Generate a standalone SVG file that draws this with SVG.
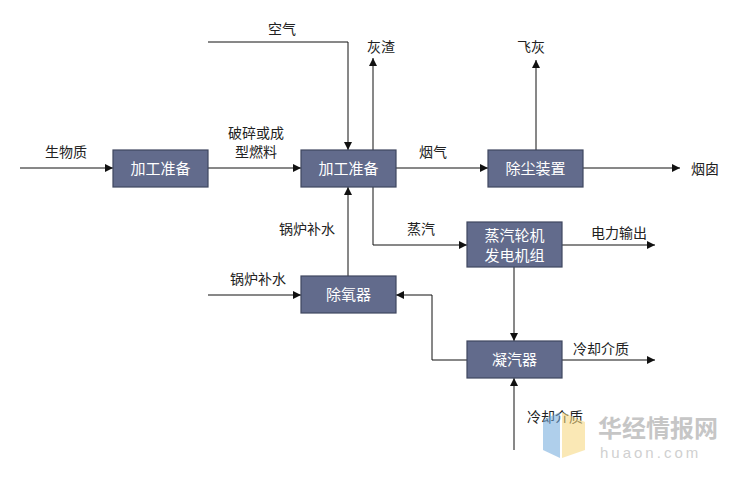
<svg xmlns="http://www.w3.org/2000/svg" width="750" height="478" viewBox="0 0 750 478">
<defs>
<style>
.box{fill:#626b8c;stroke:#3f475f;stroke-width:1.2}
.bt{fill:#fff;font-family:"Noto Sans CJK SC",sans-serif;font-size:15px;text-anchor:middle}
.lb{fill:#222;font-family:"Noto Sans CJK SC",sans-serif;font-size:14px;text-anchor:middle}
.ln{fill:none;stroke:#111;stroke-width:1;marker-end:url(#a)}
</style>
<marker id="a" viewBox="0 0 10 10" refX="10" refY="5" markerWidth="8" markerHeight="8" orient="auto" markerUnits="userSpaceOnUse"><path d="M0,0L10,5L0,10z" fill="#111"/></marker>
</defs>
<rect width="750" height="478" fill="#fff"/>
<g id="connectors">
<path class="ln" d="M20,168H113"/>
<path class="ln" d="M208,168H301"/>
<path class="ln" d="M208,42H348V150"/>
<path class="ln" d="M373,150V58"/>
<path class="ln" d="M396,168H488"/>
<path class="ln" d="M536,150V60"/>
<path class="ln" d="M583,168H680"/>
<path class="ln" d="M373,187V245H467"/>
<path class="ln" d="M562,245H655"/>
<path class="ln" d="M514,267V341"/>
<path class="ln" d="M562,360H655"/>
<path class="ln" d="M514,450V378"/>
<path class="ln" d="M467,360H432V295H396"/>
<path class="ln" d="M208,295H301"/>
<path class="ln" d="M348,276V187"/>
</g>
<g id="labels">
<text class="lb" x="66" y="157">生物质</text>
<text class="lb" x="256" y="138">破碎或成</text>
<text class="lb" x="256" y="157">型燃料</text>
<text class="lb" x="282" y="34">空气</text>
<text class="lb" x="381" y="52">灰渣</text>
<text class="lb" x="433" y="157">烟气</text>
<text class="lb" x="531" y="52">飞灰</text>
<text class="lb" x="705" y="174">烟囱</text>
<text class="lb" x="421" y="234">蒸汽</text>
<text class="lb" x="619" y="238">电力输出</text>
<text class="lb" x="601" y="354">冷却介质</text>
<text class="lb" x="555" y="422">冷却介质</text>
<text class="lb" x="258" y="284">锅炉补水</text>
<text class="lb" x="307" y="234">锅炉补水</text>
</g>
<g id="n1"><rect class="box" x="113" y="150" width="95" height="37"/><text class="bt" x="160.5" y="174">加工准备</text></g>
<g id="n2"><rect class="box" x="301" y="150" width="95" height="37"/><text class="bt" x="348.5" y="174">加工准备</text></g>
<g id="n3"><rect class="box" x="488" y="150" width="95" height="37"/><text class="bt" x="535.5" y="174">除尘装置</text></g>
<g id="n4"><rect class="box" x="467" y="222" width="95" height="45"/><text class="bt" x="514.5" y="241">蒸汽轮机</text><text class="bt" x="514.5" y="261">发电机组</text></g>
<g id="n5"><rect class="box" x="301" y="276" width="95" height="37"/><text class="bt" x="348.5" y="300">除氧器</text></g>
<g id="n6"><rect class="box" x="467" y="341" width="95" height="37"/><text class="bt" x="514.5" y="365">凝汽器</text></g>
<g id="watermark" opacity="0.55">
<polygon points="543,420 560,412 560,458 543,450" fill="#6fa8dc"/>
<polygon points="562,412 585,422 585,450 562,458" fill="#f6d77a"/>
<text x="598" y="437" font-family="Noto Sans CJK SC,sans-serif" font-size="24" font-weight="bold" fill="#999">华经情报网</text>
<text x="600" y="458" font-family="Liberation Sans,sans-serif" font-size="15" fill="#aaa" letter-spacing="3">huaon.com</text>
</g>
</svg>
